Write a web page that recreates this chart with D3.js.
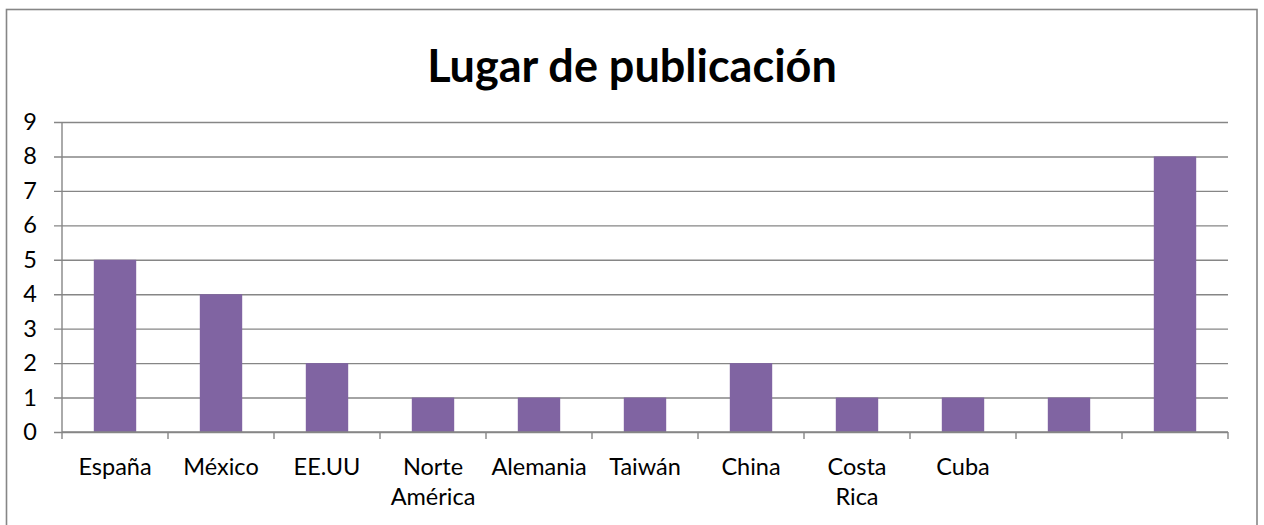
<!DOCTYPE html>
<html>
<head>
<meta charset="utf-8">
<script src="https://cdn.jsdelivr.net/npm/d3@7"></script>
<style>
  html, body { margin: 0; padding: 0; background: #fff; }
  svg { display: block; }
</style>
</head>
<body>
<div id="chart"></div>
<script>
// Data
const categories = ["España", "México", "EE.UU", "Norte América", "Alemania", "Taiwán", "China", "Costa Rica", "Cuba", "", " "];
const values = [5, 4, 2, 1, 1, 1, 2, 1, 1, 1, 8];
const yTicks = [0, 1, 2, 3, 4, 5, 6, 7, 8, 9];
const title = "Lugar de publicación";

const width = 1264, height = 525;
const margin = { top: 122, right: 36, bottom: 93, left: 62 };
const innerW = width - margin.left - margin.right;
const innerH = height - margin.top - margin.bottom;

const gridColor = "#868686";
const barColor = "#8064A2";
const font = "Lato, 'Open Sans', sans-serif";

const svg = d3.select("#chart").append("svg")
    .attr("width", width)
    .attr("height", height);

// outer chart border
svg.append("rect")
    .attr("x", 6.5).attr("y", 9.5)
    .attr("width", 1250.5).attr("height", 530)
    .attr("fill", "#fff")
    .attr("stroke", gridColor)
    .attr("stroke-width", 1.6);

// title
svg.append("text")
    .attr("x", width / 2)
    .attr("y", 82)
    .attr("text-anchor", "middle")
    .attr("font-family", font)
    .attr("font-weight", "bold")
    .attr("font-size", "45px")
    .attr("fill", "#000")
    .text(title);

const g = svg.append("g")
    .attr("transform", `translate(${margin.left},${margin.top})`);

const x = d3.scaleBand()
    .domain(categories)
    .range([0, innerW])
    .paddingInner(0.6)
    .paddingOuter(0.3);

const y = d3.scaleLinear()
    .domain([0, 9])
    .range([innerH, 0]);

// gridlines + y labels (ticks stick out 8px left of the axis)
const yAxis = g.append("g")
    .attr("transform", "translate(-8,0)")
    .call(d3.axisLeft(y).tickValues(yTicks).tickSize(-(innerW + 8)).tickPadding(17));
yAxis.select(".domain").remove();
yAxis.selectAll("line")
    .attr("stroke", gridColor)
    .attr("stroke-width", 1.4);
yAxis.selectAll("text")
    .attr("font-family", font)
    .attr("font-size", "23.5px")
    .attr("fill", "#000");

// vertical axis line
g.append("line")
    .attr("x1", 0).attr("x2", 0)
    .attr("y1", y(9)).attr("y2", innerH)
    .attr("stroke", gridColor)
    .attr("stroke-width", 1.4);

// bars
g.append("g")
    .selectAll("rect")
    .data(values)
    .enter()
    .append("rect")
    .attr("x", (d, i) => x(categories[i]))
    .attr("y", d => y(d))
    .attr("width", x.bandwidth())
    .attr("height", d => y(0) - y(d))
    .attr("fill", barColor);

// x axis line and category boundary ticks
g.append("line")
    .attr("x1", 0).attr("x2", innerW)
    .attr("y1", innerH).attr("y2", innerH)
    .attr("stroke", gridColor)
    .attr("stroke-width", 1.4);

const half = (x.step() - x.bandwidth()) / 2;
const bounds = categories.map(c => x(c) - half).concat([innerW]);
g.append("g")
    .selectAll("line")
    .data(bounds)
    .enter()
    .append("line")
    .attr("x1", d => d).attr("x2", d => d)
    .attr("y1", innerH).attr("y2", innerH + 7)
    .attr("stroke", gridColor)
    .attr("stroke-width", 1.4);

// category labels, multi-word names wrap onto two lines
const labels = g.append("g")
    .selectAll("text")
    .data(categories)
    .enter()
    .append("text")
    .attr("text-anchor", "middle")
    .attr("font-family", font)
    .attr("font-size", "23.5px")
    .attr("fill", "#000")
    .attr("transform", d => `translate(${x(d) + x.bandwidth() / 2},${innerH + 43})`);

labels.each(function (d) {
    const words = d.trim().split(" ");
    d3.select(this).selectAll("tspan")
        .data(words)
        .enter()
        .append("tspan")
        .attr("x", 0)
        .attr("dy", (w, i) => i === 0 ? 0 : 30)
        .text(w => w);
});
</script>
</body>
</html>
